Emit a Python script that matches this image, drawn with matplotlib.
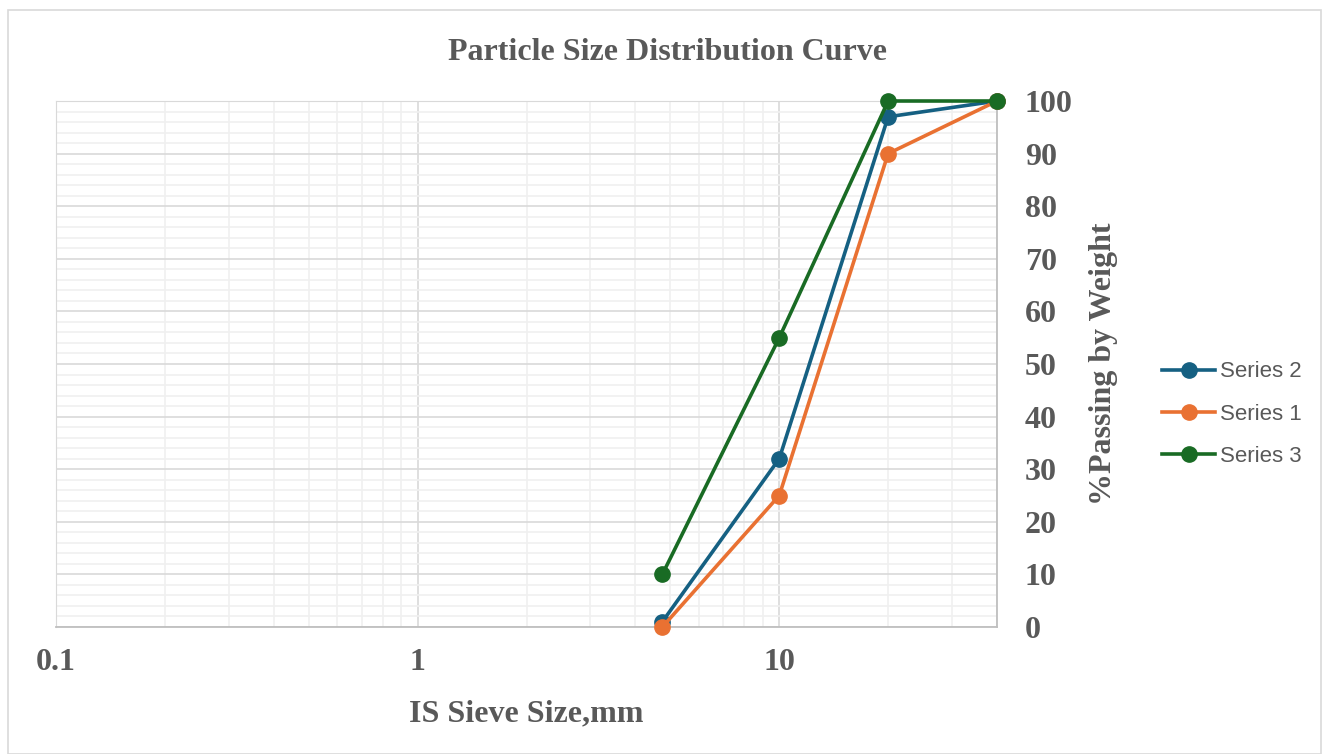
import matplotlib.pyplot as plt
from matplotlib.patches import Rectangle
from matplotlib.ticker import LogLocator, FixedLocator, NullFormatter

# sieve sizes (mm) and % passing
sieve = [4.75, 10, 20, 40]
series2 = [1, 32, 97, 100]
series1 = [0, 25, 90, 100]
series3 = [10, 55, 100, 100]

names = ['Series 2', 'Series 1', 'Series 3']
colors = ['#156082', '#E97132', '#196B24']

xticks = [0.1, 1, 10]
xticklabels = ['0.1', '1', '10']

W, H = 1329, 754
fig = plt.figure(figsize=(W / 100, H / 100), dpi=100)

# chart frame
fig.patches.append(Rectangle((8 / W, 0), (1321 - 8) / W, 1 - 10 / H,
                             transform=fig.transFigure, fill=False,
                             edgecolor='#d9d9d9', lw=1.2))

ax = fig.add_axes([56 / W, 1 - 627 / H, (997 - 56) / W, (627 - 101) / H])
ax.set_xscale('log')
ax.set_xlim(0.1, 40)
ax.set_ylim(0, 100)

for vals, name, c in zip([series2, series1, series3], names, colors):
    ax.plot(sieve, vals, color=c, lw=2.6, marker='o', markersize=11,
            label=name, zorder=3, clip_on=False)

# grid
ax.xaxis.set_major_locator(FixedLocator(xticks))
ax.xaxis.set_minor_locator(LogLocator(base=10, subs=range(2, 10)))
ax.xaxis.set_minor_formatter(NullFormatter())
ax.set_xticklabels(xticklabels)
ax.yaxis.set_major_locator(FixedLocator(range(0, 101, 10)))
ax.yaxis.set_minor_locator(FixedLocator(range(0, 101, 2)))
ax.grid(which='major', color='#d9d9d9', lw=1.2, zorder=0)
ax.grid(which='minor', color='#f0f0f0', lw=1.2, zorder=0)
ax.set_axisbelow(True)

for s in ['top', 'left']:
    ax.spines[s].set_color('#d9d9d9')
for s in ['bottom', 'right']:
    ax.spines[s].set_color('#bfbfbf')
    ax.spines[s].set_linewidth(1.3)

ax.yaxis.tick_right()
ax.yaxis.set_label_position('right')
ax.tick_params(which='both', length=0)
ax.tick_params(axis='y', pad=20)
ax.tick_params(axis='x', pad=15)

tfont = dict(family='Liberation Serif', weight='bold', color='#595959')
for lab in ax.get_xticklabels() + ax.get_yticklabels():
    lab.set_fontfamily('Liberation Serif')
    lab.set_fontweight('bold')
    lab.set_color('#595959')
    lab.set_fontsize(23)

ax.set_xlabel('IS Sieve Size,mm', fontsize=23, labelpad=16, **tfont)
ax.set_ylabel('%Passing by Weight', fontsize=23, labelpad=12, **tfont)
fig.text(667 / W, 1 - 52 / H, 'Particle Size Distribution Curve',
         ha='center', va='center', fontsize=23, **tfont)

leg = fig.legend(loc='center left', bbox_to_anchor=(1142 / W, 1 - 414 / H),
                 frameon=False, prop={'family': 'Liberation Sans', 'size': 16},
                 labelspacing=0.95, handlelength=2.4, handletextpad=0.2)
for t in leg.get_texts():
    t.set_color('#595959')

fig.savefig('out.png', dpi=100)
